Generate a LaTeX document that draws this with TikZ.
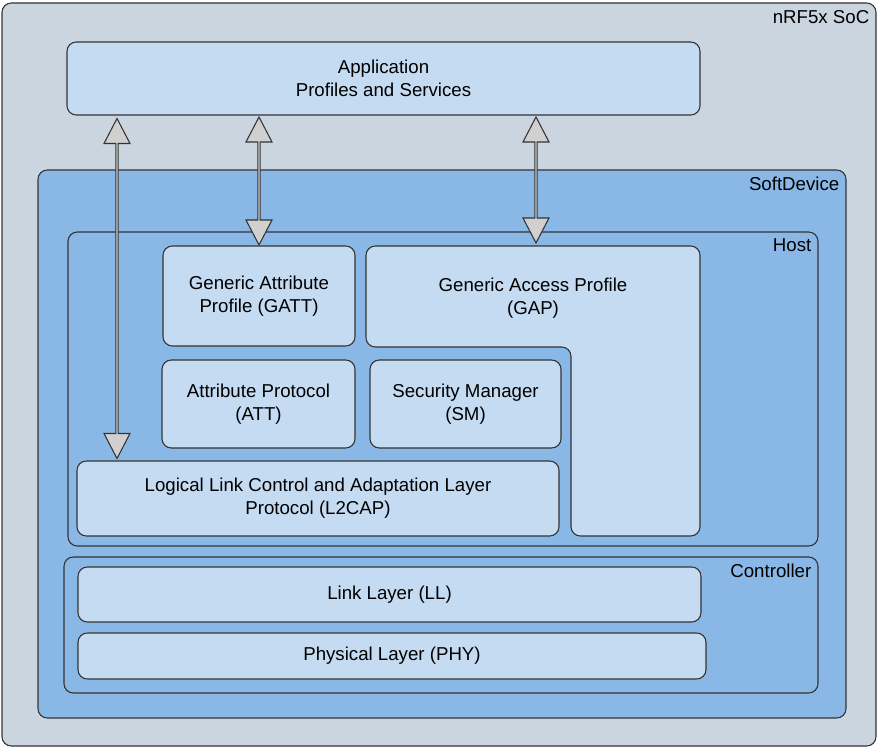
\documentclass[tikz,border=0pt]{standalone}
\usepackage{fontspec}
\setmainfont{Liberation Sans}
\usetikzlibrary{shapes.arrows}
\definecolor{socgray}{HTML}{CBD5E0}
\definecolor{sdblue}{HTML}{8AB8E6}
\definecolor{boxblue}{HTML}{C5DBF2}
\definecolor{arrowgray}{HTML}{D0D0D0}
\tikzset{
  layer/.style={draw=black!80, fill=boxblue, rounded corners=7pt, line width=0.8pt},
  frame/.style={draw=black!80, fill=sdblue, rounded corners=7pt, line width=0.8pt},
  label/.style={font=\fontsize{14}{17}\selectfont, align=center},
  fat/.style={double arrow, draw=black!80, fill=arrowgray, rotate=90, line width=0.8pt,
    minimum width=19.5pt, double arrow head extend=4.5pt, double arrow tip angle=55,
    inner sep=0pt}
}
\begin{document}
\begin{tikzpicture}[x=0.75pt,y=-0.75pt]
	\useasboundingbox (0,0) rectangle (879,748);
	% outer chip
	\draw[draw=black!80, fill=socgray, rounded corners=7pt, line width=0.8pt] (2,3) rectangle (876,746);
	\node[label, anchor=north east] (soc) at (874,6) {nRF5x SoC};
	% application
	\draw[layer] (67,42) rectangle (700,115);
	\node[label] (app) at (383.5,78.5) {Application\\Profiles and Services};
	% softdevice
	\draw[frame] (38,170) rectangle (846,718);
	\node[label, anchor=north east] (sd) at (844,172) {SoftDevice};
	% host
	\draw[frame] (68,232) rectangle (818,546);
	\node[label, anchor=north east] (host) at (816,234) {Host};
	\draw[layer] (163,246) rectangle (355,346);
	\node[label] (gatt) at (259,296) {Generic Attribute\\Profile (GATT)};
	\draw[layer] (366,246) -- (700,246) -- (700,536) -- (571,536) -- (571,347) -- (366,347) -- cycle;
	\node[label] (gap) at (533,298) {Generic Access Profile\\(GAP)};
	\draw[layer] (162,360) rectangle (355,448);
	\node[label] (att) at (258.5,404) {Attribute Protocol\\(ATT)};
	\draw[layer] (370,360) rectangle (561,448);
	\node[label] (sm) at (465.5,404) {Security Manager\\(SM)};
	\draw[layer] (77,461) rectangle (559,536);
	\node[label] (l2cap) at (318,498.5) {Logical Link Control and Adaptation Layer\\Protocol (L2CAP)};
	% controller
	\draw[frame] (64,557) rectangle (818,693);
	\node[label, anchor=north east] (ctrl) at (816,559) {Controller};
	\draw[layer] (78,567) rectangle (701,622);
	\node[label] (ll) at (389.5,594.5) {Link Layer (LL)};
	\draw[layer] (78,633) rectangle (706,679);
	\node[label] (phy) at (392,656) {Physical Layer (PHY)};
	% arrows
	\node[fat, minimum height=255pt] (a1) at (117,288.5) {};
	\node[fat, minimum height=96pt] (a2) at (259,181) {};
	\node[fat, minimum height=94.5pt] (a3) at (536,180) {};
\end{tikzpicture}
\end{document}
